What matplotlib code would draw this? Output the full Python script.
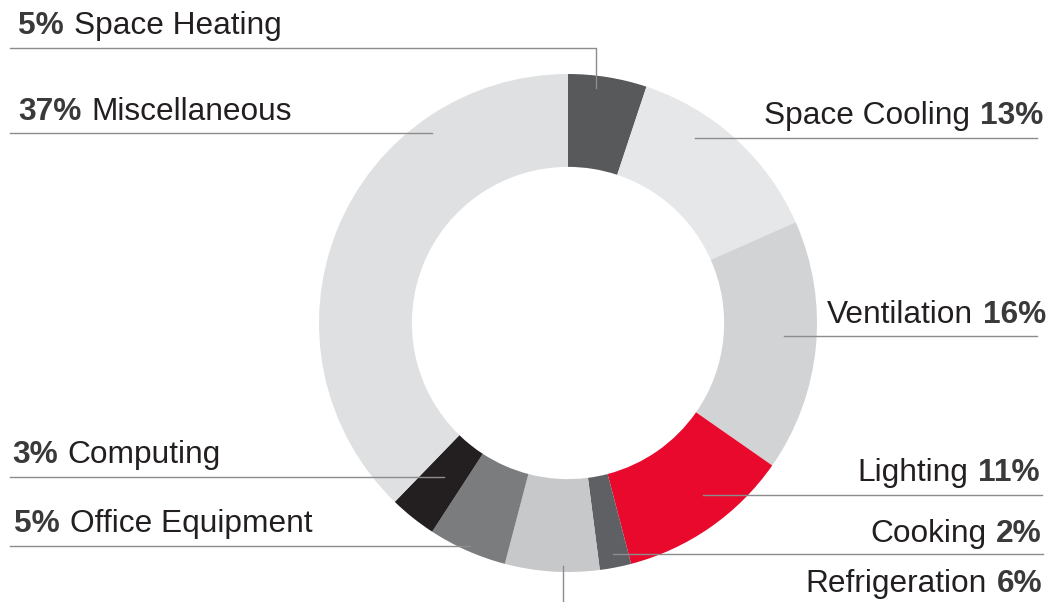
import matplotlib
matplotlib.use("Agg")
from matplotlib import pyplot as plt

# data
labels = ["Space Heating", "Space Cooling", "Ventilation", "Lighting", "Cooking",
          "Refrigeration", "Office Equipment", "Computing", "Miscellaneous"]
shares = [5, 13, 16, 11, 2, 6, 5, 3, 37]
colors = ["#58595b", "#e6e7e8", "#d1d3d4", "#e8092c", "#5f6064",
          "#c7c8ca", "#7b7c7e", "#231f20", "#dfe0e2"]

# label layout in pixels: side, x anchor, baseline y, leader line
layout = {
    "Space Heating":    ("left", 18, 34, [(10, 48), (596, 48), (596, 88)]),
    "Miscellaneous":    ("left", 18, 120, [(10, 133), (432, 133)]),
    "Computing":        ("left", 12, 463, [(10, 477), (444, 477)]),
    "Office Equipment": ("left", 14, 532, [(10, 546), (470, 546)]),
    "Space Cooling":    ("right", 1043, 124, [(695, 138), (1037, 138)]),
    "Ventilation":      ("right", 1046, 323, [(784, 336), (1037, 336)]),
    "Lighting":         ("right", 1040, 481, [(703, 495), (1042, 495)]),
    "Cooking":          ("right", 1042, 542, [(613, 554), (1043, 554)]),
    "Refrigeration":    ("right", 1042, 592, [(563, 566), (563, 602)]),
}

W, H = 1051, 602
cx, cy, R = 568, 323, 249

fig = plt.figure(figsize=(W / 100, H / 100), dpi=100)
ax = fig.add_axes([(cx - R) / W, (H - cy - R) / H, 2 * R / W, 2 * R / H])
ax.pie(shares, colors=colors, startangle=90, counterclock=False, radius=1,
       wedgeprops=dict(width=0.373, linewidth=0))
ax.set_xlim(-1, 1)
ax.set_ylim(-1, 1)
ax.axis("off")

ov = fig.add_axes([0, 0, 1, 1], zorder=5)
ov.set_xlim(0, W)
ov.set_ylim(H, 0)
ov.axis("off")
ov.patch.set_alpha(0)

fig.canvas.draw()
rend = fig.canvas.get_renderer()

fs = 22.8
name_kw = dict(fontsize=fs, family="Liberation Sans", color="#231f20", va="baseline")
pct_kw = dict(fontsize=fs, family="Liberation Sans", fontweight="bold",
              color="#3a3a3c", va="baseline")
gap = 10

for lab, val in zip(labels, shares):
    side, x, y, path = layout[lab]
    pct = f"{val}%"
    if side == "left":
        t = ov.text(x, y, pct, ha="left", **pct_kw)
        w = t.get_window_extent(rend).width
        ov.text(x + w + gap, y, lab, ha="left", **name_kw)
    else:
        t = ov.text(x, y, pct, ha="right", **pct_kw)
        w = t.get_window_extent(rend).width
        ov.text(x - w - gap, y, lab, ha="right", **name_kw)
    xs = [p[0] for p in path]
    ys = [p[1] for p in path]
    ov.plot(xs, ys, color="#8c8c8c", lw=1)

fig.savefig("out.png", dpi=100)
